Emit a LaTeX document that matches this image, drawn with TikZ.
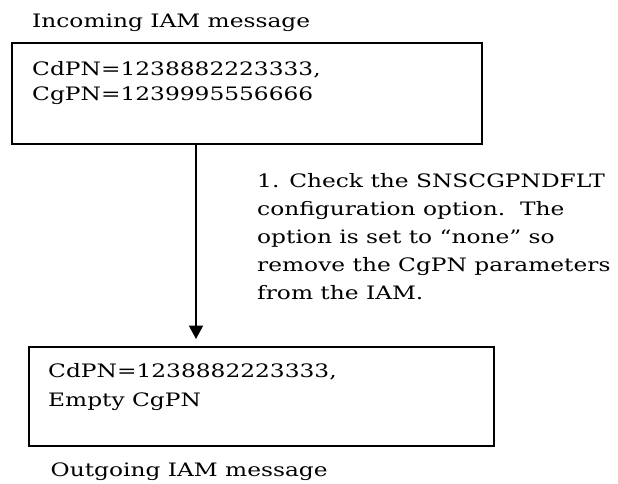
\documentclass[tikz,border=0pt]{standalone}
\usepackage{fontspec}
\setmainfont{DejaVu Serif}[FakeStretch=1.26]
\usetikzlibrary{positioning, arrows.meta}

\begin{document}
\begin{tikzpicture}[x=1pt, y=-1pt,
    msgbox/.style={draw, line width=2pt, inner sep=0pt, anchor=north west},
    msgtext/.style={align=left, inner sep=0pt, anchor=base west,
      font=\fontsize{18.5}{25.6}\selectfont},
    flowarrow/.style={line width=2pt, -{Triangle[width=14pt, length=13.5pt]}}]
  \useasboundingbox (0,0) rectangle (618,483);
  % incoming message
  \node[msgtext] (inTitle) at (32,27) {Incoming IAM message};
  \node[msgbox, minimum width=470pt, minimum height=101pt] (inBox) at (10.5,42) {};
  \node[msgtext, below right=58.7pt and 21.5pt of inBox.north west, anchor=base west] (inMsg)
    {CdPN=1238882223333,\\CgPN=1239995556666};
  % outgoing message
  \node[msgbox, minimum width=465pt, minimum height=99pt] (outBox) at (28,346) {};
  \node[msgtext, below right=60pt and 20pt of outBox.north west, anchor=base west,
    font=\fontsize{18.5}{29}\selectfont] (outMsg)
    {CdPN=1238882223333,\\Empty CgPN};
  \node[msgtext] (outTitle) at (50.5,476) {Outgoing IAM message};
  % step
  \coordinate (arrowX) at (196,0);
  \draw[flowarrow, shorten >=7pt] (inBox.south -| arrowX) -- (outBox.north -| arrowX);
  \node[msgtext, font=\fontsize{18.5}{28}\selectfont] (stepNote) at (257,299)
    {1. Check the SNSCGPNDFLT\\configuration option.\ \ The\\option is set to “none” so\\remove the CgPN parameters\\from the IAM.};
\end{tikzpicture}
\end{document}
